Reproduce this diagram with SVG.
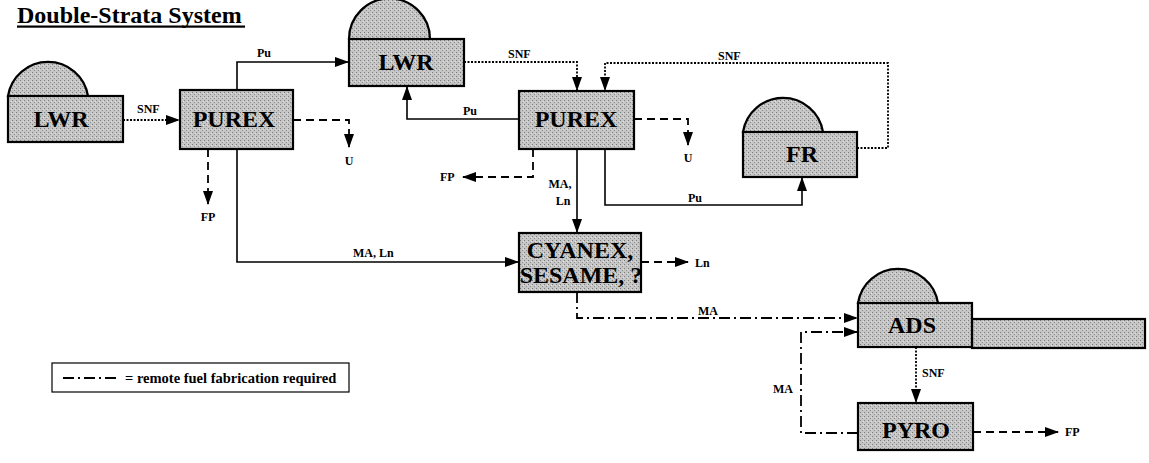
<svg xmlns="http://www.w3.org/2000/svg" width="1149" height="463" viewBox="0 0 1149 463">
<style>
.box{fill:url(#stip);stroke:#000;stroke-width:2.2}
.nl{font-family:"Liberation Serif",serif;font-weight:bold;font-size:24px;text-anchor:middle;fill:#000}
.lb{font-family:"Liberation Serif",serif;font-weight:bold;font-size:12px;fill:#000}
.tt{font-family:"Liberation Serif",serif;font-weight:bold;fill:#000}
.solid{fill:none;stroke:#000;stroke-width:1.6}
.dot{fill:none;stroke:#000;stroke-width:1.8;stroke-dasharray:2 1.5}
.dash{fill:none;stroke:#000;stroke-width:1.8;stroke-dasharray:8 5}
.dd{fill:none;stroke:#000;stroke-width:1.8;stroke-dasharray:11 4 2 4}
</style>
<defs>
<pattern id="stip" width="4" height="4" patternUnits="userSpaceOnUse">
<rect width="4" height="4" fill="#c6c6c6"/>
<rect x="0" y="0" width="1" height="1" fill="#7a7a7a"/>
<rect x="2" y="2" width="1" height="1" fill="#8e8e8e"/>
<rect x="3" y="1" width="1" height="1" fill="#e2e2e2"/>
</pattern>
<marker id="ah" markerWidth="14" markerHeight="10" refX="13" refY="5" orient="auto" markerUnits="userSpaceOnUse">
<path d="M0,0 L14,5 L0,10 Z" fill="#000"/>
</marker>
</defs>

<g id="title">
<text class="tt" x="17" y="23" font-size="24">Double-Strata System</text>
<rect x="17" y="25.5" width="228" height="2.2" fill="#000"/>
</g>

<g id="connectors">
<path class="dot" d="M123,120 H179" marker-end="url(#ah)"/>
<text class="lb" x="137" y="113">SNF</text>
<path class="solid" d="M237,90 V62 H348" marker-end="url(#ah)"/>
<text class="lb" x="257" y="57">Pu</text>
<path class="dash" d="M293,120 H349 V147" marker-end="url(#ah)"/>
<text class="lb" x="349" y="165" text-anchor="middle">U</text>
<path class="dash" d="M208,149 V204" marker-end="url(#ah)"/>
<text class="lb" x="208" y="221" text-anchor="middle">FP</text>
<path class="solid" d="M237,149 V262 H518" marker-end="url(#ah)"/>
<text class="lb" x="353" y="257" font-weight="normal">MA, Ln</text>
<path class="dot" d="M464,62 H577 V90" marker-end="url(#ah)"/>
<text class="lb" x="508" y="58">SNF</text>
<path class="dot" d="M857,148 H888 V63 H605 V90" marker-end="url(#ah)"/>
<text class="lb" x="718" y="60">SNF</text>
<path class="solid" d="M519,119 H407 V87" marker-end="url(#ah)"/>
<text class="lb" x="463" y="115" font-weight="normal">Pu</text>
<path class="dash" d="M634,119 H688 V145" marker-end="url(#ah)"/>
<text class="lb" x="688" y="162" text-anchor="middle">U</text>
<path class="dash" d="M533,149 V177 H463" marker-end="url(#ah)"/>
<text class="lb" x="440" y="181">FP</text>
<path class="solid" d="M577,149 V232" marker-end="url(#ah)"/>
<text class="lb" x="560" y="188" text-anchor="middle" font-weight="normal">MA,</text>
<text class="lb" x="563" y="205" text-anchor="middle" font-weight="normal">Ln</text>
<path class="solid" d="M605,149 V205 H802 V178" marker-end="url(#ah)"/>
<text class="lb" x="688" y="202" font-weight="normal">Pu</text>
<path class="dash" d="M641,262 H688" marker-end="url(#ah)"/>
<text class="lb" x="695" y="267" font-weight="normal">Ln</text>
<path class="dd" d="M577,292 V318 H857" marker-end="url(#ah)"/>
<text class="lb" x="698" y="315">MA</text>
<path class="dd" d="M858,433 H801 V332 H857" marker-end="url(#ah)"/>
<text class="lb" x="773" y="393">MA</text>
<path class="dot" d="M916,347 V402" marker-end="url(#ah)"/>
<text class="lb" x="922" y="377">SNF</text>
<path class="dash" d="M973,432 H1058" marker-end="url(#ah)"/>
<text class="lb" x="1065" y="436">FP</text>
</g>

<g id="lwr1">
<path class="box" d="M8,96 A40.5,40.5 0 0 1 88,96 Z"/>
<rect class="box" x="8" y="96" width="115" height="46"/>
<text class="nl" x="61" y="127">LWR</text>
</g>
<g id="purex1">
<rect class="box" x="180" y="90" width="113" height="59"/>
<text class="nl" x="234" y="127" font-size="21">PUREX</text>
</g>
<g id="lwr2">
<path class="box" d="M349,39 A40.5,40.5 0 0 1 430,39 Z"/>
<rect class="box" x="349" y="39" width="115" height="47"/>
<text class="nl" x="406" y="70">LWR</text>
</g>
<g id="purex2">
<rect class="box" x="519" y="91" width="115" height="58"/>
<text class="nl" x="576" y="127" font-size="21">PUREX</text>
</g>
<g id="fr">
<path class="box" d="M743,132 A40.5,40.5 0 0 1 823,132 Z"/>
<rect class="box" x="743" y="132" width="114" height="45"/>
<text class="nl" x="802" y="162">FR</text>
</g>
<g id="cyanex">
<rect class="box" x="519" y="233" width="122" height="59"/>
<text class="nl" x="580" y="258" font-size="20">CYANEX,</text>
<text class="nl" x="581" y="283" font-size="20">SESAME, ?</text>
</g>
<g id="ads">
<rect class="box" x="972" y="319" width="173" height="29"/>
<path class="box" d="M858,303 A40.5,40.5 0 0 1 938,303 Z"/>
<rect class="box" x="858" y="303" width="114" height="44"/>
<text class="nl" x="912" y="333" font-size="22">ADS</text>
</g>
<g id="pyro">
<rect class="box" x="858" y="403" width="115" height="47"/>
<text class="nl" x="916" y="438" font-size="22">PYRO</text>
</g>
<g id="legend">
<rect x="52" y="363" width="297" height="29" fill="#fff" stroke="#000" stroke-width="1.2"/>
<path class="dd" d="M63,378 H120"/>
<text class="tt" x="125" y="383" font-size="14.5">= remote fuel fabrication required</text>
</g>
</svg>
